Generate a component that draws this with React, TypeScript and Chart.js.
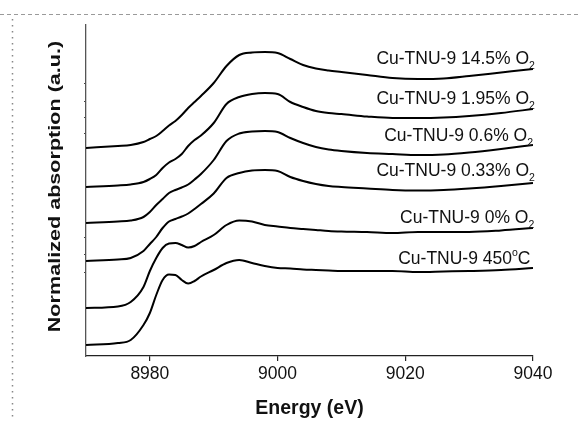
import React, { useEffect, useRef } from "react";
import { Chart, registerables } from "chart.js";

Chart.register(...registerables);

// Energy grid (eV)
const energy = [
  8970, 8975, 8977, 8979, 8980, 8981, 8982, 8983, 8984, 8985, 8986, 8987, 8988,
  8990, 8992, 8994, 8996, 8998, 9000, 9002, 9004, 9006, 9008, 9010, 9014, 9018,
  9022, 9026, 9030, 9035, 9040,
];

// Normalized absorption (offset-stacked, a.u.)
const o2_14_5 = [
  2.08, 2.1, 2.11, 2.14, 2.17, 2.2, 2.25, 2.305, 2.35, 2.41, 2.48, 2.54, 2.6,
  2.73, 2.9, 3.01, 3.035, 3.04, 3.03, 2.97, 2.91, 2.875, 2.855, 2.84, 2.81, 2.78,
  2.77, 2.775, 2.8, 2.835, 2.87,
];
const o2_1_95 = [
  1.69, 1.705, 1.715, 1.74, 1.77, 1.81, 1.88, 1.935, 1.97, 2.02, 2.1, 2.16,
  2.205, 2.33, 2.52, 2.59, 2.62, 2.63, 2.62, 2.54, 2.49, 2.45, 2.43, 2.42, 2.395,
  2.38, 2.38, 2.385, 2.4, 2.43, 2.47,
];
const o2_0_6 = [
  1.33, 1.345, 1.355, 1.39, 1.44, 1.51, 1.57, 1.63, 1.66, 1.685, 1.715, 1.765,
  1.82, 1.96, 2.15, 2.225, 2.245, 2.25, 2.24, 2.18, 2.13, 2.09, 2.065, 2.05, 2.03,
  2.02, 2.01, 2.015, 2.035, 2.07, 2.11,
];
const o2_0_33 = [
  0.95, 0.965, 0.98, 1.05, 1.12, 1.19, 1.28, 1.345, 1.37, 1.395, 1.425, 1.47,
  1.52, 1.625, 1.78, 1.83, 1.855, 1.86, 1.85, 1.79, 1.75, 1.72, 1.7, 1.69, 1.675,
  1.66, 1.655, 1.66, 1.675, 1.7, 1.73,
];
const o2_0 = [
  0.48, 0.495, 0.54, 0.69, 0.85, 0.98, 1.08, 1.125, 1.13, 1.11, 1.085, 1.1, 1.14,
  1.21, 1.31, 1.355, 1.345, 1.31, 1.295, 1.28, 1.27, 1.26, 1.25, 1.245, 1.24,
  1.23, 1.24, 1.24, 1.24, 1.255, 1.28,
];
const t450 = [
  0.11, 0.13, 0.16, 0.31, 0.43, 0.61, 0.76, 0.815, 0.81, 0.76, 0.725, 0.75,
  0.795, 0.86, 0.93, 0.96, 0.93, 0.9, 0.88, 0.875, 0.865, 0.86, 0.855, 0.85,
  0.85, 0.85, 0.84, 0.845, 0.85, 0.86, 0.88,
];

const seriesValues = [o2_14_5, o2_1_95, o2_0_6, o2_0_33, o2_0, t450];
const seriesNames = [
  "Cu-TNU-9 14.5% O2",
  "Cu-TNU-9 1.95% O2",
  "Cu-TNU-9 0.6% O2",
  "Cu-TNU-9 0.33% O2",
  "Cu-TNU-9 0% O2",
  "Cu-TNU-9 450°C",
];

// Curve labels: main text, subscript, superscript, tail
const labelMain = [
  "Cu-TNU-9 14.5% O",
  "Cu-TNU-9 1.95% O",
  "Cu-TNU-9 0.6% O",
  "Cu-TNU-9 0.33% O",
  "Cu-TNU-9 0% O",
  "Cu-TNU-9 450",
];
const labelSub = ["2", "2", "2", "2", "2", ""];
const labelSup = ["", "", "", "", "", "o"];
const labelTail = ["", "", "", "", "", "C"];
const labelAnchorX = [9040.3, 9040.3, 9040.0, 9040.3, 9040.2, 9039.6];
const labelAnchorY = [2.98, 2.58, 2.21, 1.86, 1.39, 0.98];

const xTicks = [8980, 9000, 9020, 9040];
const yTickMarks = [2.73, 2.55, 2.39, 2.22, 1.19, 1.02, 0.84];

const xTitle = "Energy (eV)";
const yTitle = "Normalized absorption (a.u.)";

const FONT = '"Liberation Sans", Arial, Helvetica, sans-serif';

const framePlugin = {
  id: "frame",
  beforeDraw(chart: any) {
    const ctx = chart.ctx;
    ctx.save();
    ctx.strokeStyle = "#9a9a9a";
    ctx.lineWidth = 1;
    ctx.setLineDash([4, 3]);
    ctx.beginPath();
    ctx.moveTo(0, 14.5);
    ctx.lineTo(chart.width, 14.5);
    ctx.stroke();
    ctx.strokeStyle = "#888";
    ctx.lineWidth = 1.5;
    ctx.setLineDash([1.5, 4.5]);
    ctx.beginPath();
    ctx.moveTo(12.5, 19);
    ctx.lineTo(12.5, chart.height);
    ctx.stroke();
    ctx.restore();
  },
};

const labelsPlugin = {
  id: "curveLabels",
  afterDatasetsDraw(chart: any) {
    const ctx = chart.ctx;
    const xs = chart.scales.x;
    const ys = chart.scales.y;
    ctx.save();
    ctx.fillStyle = "#111";
    ctx.textBaseline = "alphabetic";
    ctx.textAlign = "left";
    const mainFont = `17.5px ${FONT}`;
    const smallFont = `10.5px ${FONT}`;
    for (let i = 0; i < labelMain.length; i++) {
      ctx.font = mainFont;
      const wMain = ctx.measureText(labelMain[i]).width;
      const wTail = ctx.measureText(labelTail[i]).width;
      ctx.font = smallFont;
      const wSub = ctx.measureText(labelSub[i]).width;
      const wSup = ctx.measureText(labelSup[i]).width;
      const right = xs.getPixelForValue(labelAnchorX[i]);
      const baseline = ys.getPixelForValue(labelAnchorY[i]) + 6.3;
      let x = right - (wMain + wSub + wSup + wTail);
      ctx.font = mainFont;
      ctx.fillText(labelMain[i], x, baseline);
      x += wMain;
      ctx.font = smallFont;
      if (labelSub[i]) {
        ctx.fillText(labelSub[i], x, baseline + 4.5);
        x += wSub;
      }
      if (labelSup[i]) {
        ctx.fillText(labelSup[i], x, baseline - 8);
        x += wSup;
      }
      ctx.font = mainFont;
      if (labelTail[i]) ctx.fillText(labelTail[i], x, baseline);
    }
    ctx.restore();
  },
};

const yTitlePlugin = {
  id: "yTitle",
  afterDraw(chart: any) {
    const ctx = chart.ctx;
    const area = chart.chartArea;
    ctx.save();
    ctx.fillStyle = "#111";
    ctx.font = `bold 17px ${FONT}`;
    ctx.textAlign = "center";
    ctx.textBaseline = "middle";
    ctx.translate(55, (area.top + area.bottom) / 2 - 4);
    ctx.rotate(-Math.PI / 2);
    ctx.scale(1.27, 1);
    ctx.fillText(yTitle, 0, 0);
    ctx.restore();
  },
};

export default function App() {
  const canvasRef = useRef<HTMLCanvasElement | null>(null);

  useEffect(() => {
    if (!canvasRef.current) return;
    const datasets = seriesValues.map((vals, i) => ({
      label: seriesNames[i],
      data: energy.map((e, j) => ({ x: e, y: vals[j] })),
      borderColor: "#000",
      borderWidth: 2,
      pointRadius: 0,
      fill: false,
      cubicInterpolationMode: "monotone" as const,
    }));

    const chart = new Chart(canvasRef.current, {
      type: "line",
      data: { datasets },
      plugins: [framePlugin, labelsPlugin, yTitlePlugin],
      options: {
        animation: false,
        responsive: false,
        layout: { padding: { top: 25, right: 45, left: 0, bottom: 0 } },
        plugins: {
          legend: { display: false },
          tooltip: { enabled: false },
        },
        scales: {
          x: {
            type: "linear",
            min: 8970,
            max: 9040,
            afterBuildTicks: (scale: any) => {
              scale.ticks = xTicks.map((v) => ({ value: v }));
            },
            afterFit: (scale: any) => {
              scale.height = 65;
            },
            ticks: {
              callback: (v: any) => String(v),
              font: { family: FONT, size: 17.5 },
              color: "#111",
              padding: 3,
              maxRotation: 0,
              autoSkip: false,
            },
            grid: {
              drawOnChartArea: false,
              drawTicks: true,
              tickLength: 5,
              color: "#222",
              lineWidth: 1.2,
            },
            border: { display: true, color: "#222", width: 1.3 },
            title: {
              display: true,
              text: xTitle,
              font: { family: FONT, size: 19.5, weight: "bold" },
              color: "#111",
              padding: { top: 0, bottom: 1 },
            },
          },
          y: {
            type: "linear",
            min: 0,
            max: 3.31,
            afterBuildTicks: (scale: any) => {
              scale.ticks = yTickMarks.map((v) => ({ value: v }));
            },
            afterFit: (scale: any) => {
              scale.width = 86;
            },
            ticks: {
              callback: () => "",
              padding: 0,
            },
            grid: {
              drawOnChartArea: false,
              drawTicks: true,
              tickLength: 2,
              color: "#444",
              lineWidth: 1,
            },
            border: { display: true, color: "#555", width: 1.3 },
            title: { display: false },
          },
        },
      },
    });
    return () => chart.destroy();
  }, []);

  return (
    <div style={{ position: "absolute", left: 0, top: 0, width: 578, height: 421, background: "#fff" }}>
      <canvas ref={canvasRef} width={578} height={421} style={{ display: "block", width: 578, height: 421 }} />
    </div>
  );
}
